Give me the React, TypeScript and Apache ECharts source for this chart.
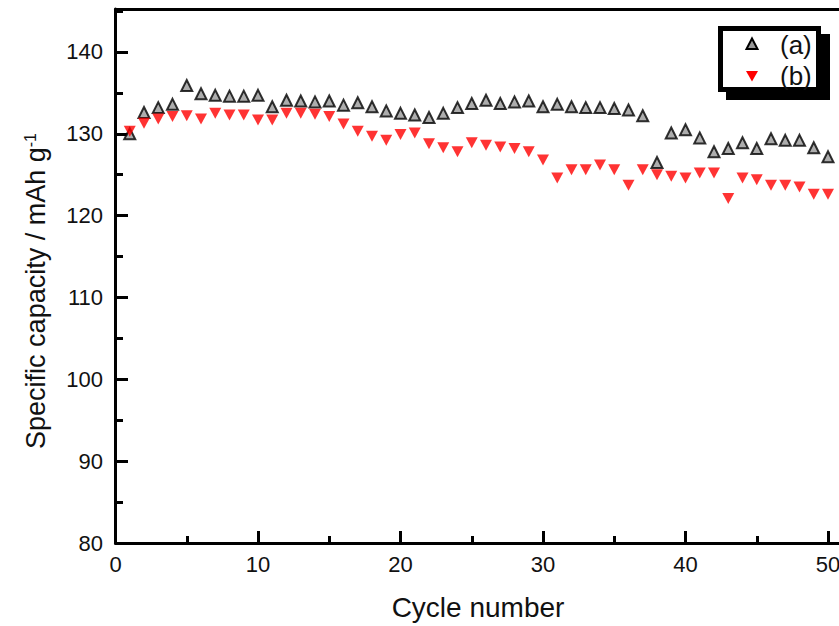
import React, { useEffect, useRef } from "react";
import * as echarts from "echarts";

const cycles = [1, 2, 3, 4, 5, 6, 7, 8, 9, 10, 11, 12, 13, 14, 15, 16, 17, 18, 19, 20, 21, 22, 23, 24, 25, 26, 27, 28, 29, 30, 31, 32, 33, 34, 35, 36, 37, 38, 39, 40, 41, 42, 43, 44, 45, 46, 47, 48, 49, 50];

const seriesNames = ["(a)", "(b)"];

const capacityA = [
  130.0, 132.6, 133.2, 133.6, 135.9, 134.9, 134.7, 134.6, 134.6, 134.7,
  133.3, 134.1, 134.0, 133.9, 134.0, 133.5, 133.8, 133.3, 132.8, 132.5,
  132.3, 132.0, 132.5, 133.2, 133.7, 134.1, 133.7, 133.9, 134.0, 133.3,
  133.6, 133.3, 133.2, 133.2, 133.1, 132.9, 132.2, 126.5, 130.1, 130.5,
  129.5, 127.8, 128.2, 128.9, 128.2, 129.4, 129.2, 129.2, 128.3, 127.2,
];

const capacityB = [
  130.3, 131.3, 131.8, 132.1, 132.2, 131.8, 132.5, 132.3, 132.3, 131.7,
  131.7, 132.5, 132.5, 132.4, 132.1, 131.2, 130.3, 129.7, 129.2, 129.9,
  130.1, 128.8, 128.3, 127.8, 128.9, 128.6, 128.4, 128.2, 127.8, 126.8,
  124.6, 125.6, 125.6, 126.2, 125.6, 123.7, 125.6, 125.0, 124.8, 124.6,
  125.2, 125.2, 122.1, 124.6, 124.4, 123.7, 123.7, 123.5, 122.6, 122.6,
];

const xTicks = [0, 10, 20, 30, 40, 50];
const yTicks = [80, 90, 100, 110, 120, 130, 140];
const xTitle = "Cycle number";
const yTitleMain = "Specific capacity / mAh g";
const yTitleSup = "-1";

const FONT = "'Liberation Sans', Arial, sans-serif";

export default function App() {
  const ref = useRef<HTMLDivElement>(null);
  useEffect(() => {
    if (!ref.current) return;
    const chart = echarts.init(ref.current, undefined, { renderer: "svg" });
    const axisCommon = {
      axisLine: { show: true, onZero: false, lineStyle: { color: "#000", width: 3 } },
      splitLine: { show: false },
    };
    chart.setOption({
      animation: false,
      backgroundColor: "#fff",
      grid: { left: 115.5, top: 9, width: 741, height: 534 },
      xAxis: [
        {
          type: "value",
          min: 0,
          max: 52,
          interval: 10,
          ...axisCommon,
          axisTick: { show: true, inside: true, length: 12, lineStyle: { color: "#000", width: 3 } },
          minorTick: { show: true, splitNumber: 2, length: 7, lineStyle: { color: "#000", width: 3 } },
          axisLabel: {
            formatter: (v: number) => (xTicks.includes(v) ? String(v) : ""),
            fontSize: 22,
            fontFamily: FONT,
            color: "#111",
            margin: 10,
          },
        },
        {
          type: "value",
          position: "top",
          min: 0,
          max: 52,
          ...axisCommon,
          axisTick: { show: false },
          axisLabel: { show: false },
        },
      ],
      yAxis: {
        type: "value",
        min: 80,
        max: 145.25,
        interval: 10,
        ...axisCommon,
        axisTick: { show: true, inside: true, length: 12.5, lineStyle: { color: "#000", width: 3 } },
        minorTick: { show: true, splitNumber: 2, length: 7.5, lineStyle: { color: "#000", width: 3 } },
        axisLabel: {
          formatter: (v: number) => (yTicks.includes(v) ? String(v) : ""),
          fontSize: 22,
          fontFamily: FONT,
          color: "#111",
          margin: 12.5,
        },
      },
      series: [
        {
          name: seriesNames[0],
          type: "scatter",
          symbol: "triangle",
          symbolSize: 11,
          itemStyle: { color: "#999", borderColor: "#000", borderWidth: 2 },
          data: cycles.map((c, i) => [c, capacityA[i]]),
        },
        {
          name: seriesNames[1],
          type: "scatter",
          symbol: "triangle",
          symbolRotate: 180,
          symbolSize: [12, 11],
          itemStyle: { color: "#ff0000" },
          data: cycles.map((c, i) => [c, capacityB[i]]),
        },
      ],
      graphic: [
        {
          type: "text",
          x: 478,
          y: 607,
          style: { text: xTitle, fontSize: 28, fontFamily: FONT, fill: "#111", align: "center", verticalAlign: "middle" },
        },
        {
          type: "text",
          x: 36,
          y: 291,
          rotation: Math.PI / 2,
          style: {
            text: `{a|${yTitleMain}}{s|${yTitleSup}}`,
            rich: {
              a: { fontSize: 27, fontFamily: FONT, fill: "#111" },
              s: { fontSize: 16, fontFamily: FONT, fill: "#111", verticalAlign: "top" },
            },
            align: "center",
            verticalAlign: "middle",
          },
        },
        { type: "rect", shape: { x: 726, y: 34, width: 104, height: 66 }, style: { fill: "#000" } },
        {
          type: "rect",
          shape: { x: 720.5, y: 28.5, width: 98, height: 61 },
          style: { fill: "#fff", stroke: "#000", lineWidth: 5 },
        },
        {
          type: "polygon",
          shape: { points: [[752, 38.5], [757.5, 49], [746.5, 49]] },
          style: { fill: "#999", stroke: "#000", lineWidth: 2 },
        },
        {
          type: "polygon",
          shape: { points: [[746, 71], [758, 71], [752, 81.5]] },
          style: { fill: "#ff0000" },
        },
        {
          type: "text",
          x: 780,
          y: 45,
          style: { text: seriesNames[0], fontSize: 26, fontFamily: FONT, fill: "#111", verticalAlign: "middle" },
        },
        {
          type: "text",
          x: 780,
          y: 76,
          style: { text: seriesNames[1], fontSize: 26, fontFamily: FONT, fill: "#111", verticalAlign: "middle" },
        },
      ],
    });
    return () => chart.dispose();
  }, []);
  return <div ref={ref} style={{ position: "fixed", left: 0, top: 0, width: 880, height: 626 }} />;
}
